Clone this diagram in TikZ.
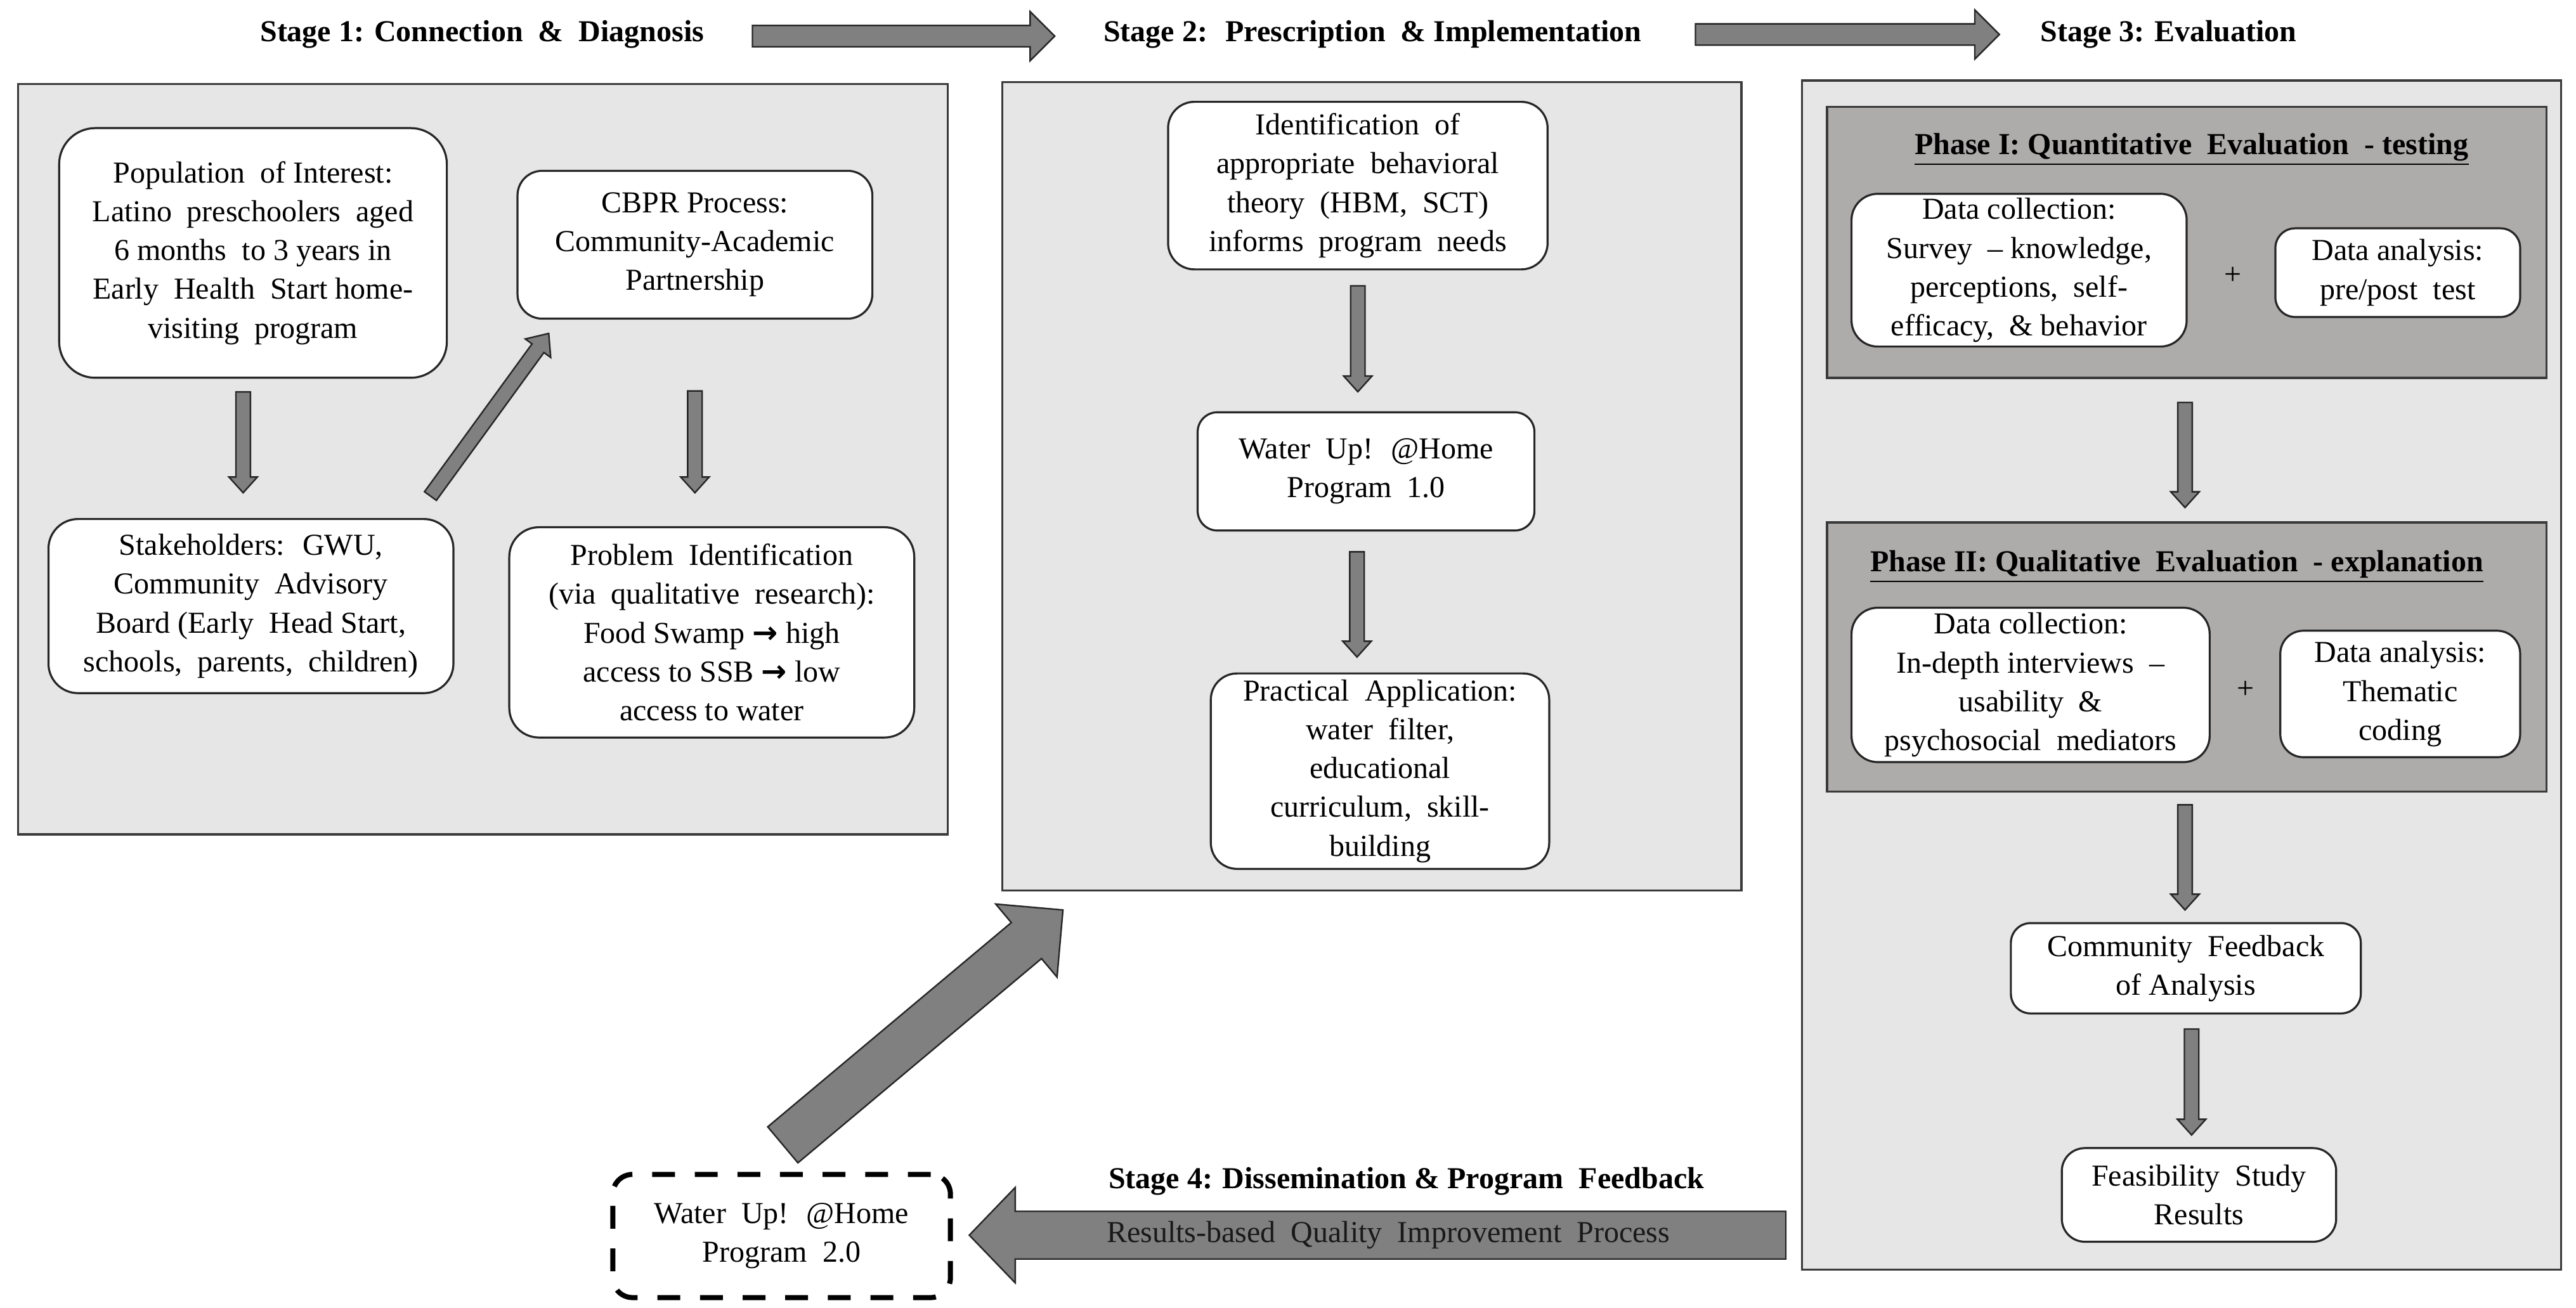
\documentclass[tikz,border=0pt]{standalone}
\usepackage{fontspec}
\setmainfont{Liberation Serif}
\newfontfamily\symf{DejaVu Sans}
\usetikzlibrary{calc}
\definecolor{panelfill}{HTML}{E7E6E6}
\definecolor{phasefill}{HTML}{AEABAB}
\definecolor{arrowfill}{HTML}{808080}
\definecolor{edgec}{HTML}{262626}
\definecolor{panc}{HTML}{3A3A3A}
% #1 start, #2 tip, #3 shaft half width, #4 head half width, #5 head length
\newcommand{\blockarrow}[5]{%
  \coordinate (bah) at ($(#2)!#5!(#1)$);
  \filldraw[blk] ($(#1)!#3!90:(#2)$) -- ($(bah)!#3!90:(#2)$) -- ($(bah)!#4!90:(#2)$) -- (#2)
    -- ($(bah)!#4!-90:(#2)$) -- ($(bah)!#3!-90:(#2)$) -- ($(#1)!#3!-90:(#2)$) -- cycle;}
\begin{document}
\begin{tikzpicture}[x=0.64765pt,y=-0.64765pt,
  sz/.style 2 args={minimum width={#1*0.64765pt},minimum height={#2*0.64765pt}},
  rc/.style={rounded corners={#1*0.64765pt}},
  bx/.style={draw=edgec,line width=0.8pt,fill=white,align=center,inner sep=0pt,font=\fontsize{12}{15.3}\selectfont},
  panel/.style={draw=panc,line width=0.8pt,fill=panelfill,inner sep=0pt},
  phase/.style={draw=panc,line width=0.9pt,fill=phasefill,inner sep=0pt},
  blk/.style={fill=arrowfill,draw=edgec,line width=0.6pt,line join=miter},
  ttl/.style={font=\fontsize{12}{14}\selectfont\bfseries,inner sep=0pt},
  txt/.style={font=\fontsize{12}{14}\selectfont,inner sep=0pt}]

\useasboundingbox (0,0) rectangle (1568,796);

% titles
\node[ttl] (t1) at (293.5,21) {Stage 1: Connection \ \& \ Diagnosis};
\node[ttl] (t2) at (835.5,21) {Stage 2: \ Prescription \ \& Implementation};
\node[ttl] (t3) at (1320,21) {Stage 3: Evaluation};

% panels
\node[panel,sz={566}{457}] (p1) at (294,279.5) {};
\node[panel,sz={450}{492}] (p2) at (835,296) {};
\node[panel,sz={462}{724}] (p3) at (1328,411) {};
\node[phase,sz={438}{165}] (ph1) at (1331,147.5) {};
\node[phase,sz={438}{164}] (ph2) at (1331,400) {};

% stage 1 boxes
\node[bx,sz={236}{152},rc=22] (pop) at (154,154) {Population \ of Interest:\\Latino \ preschoolers \ aged\\6 months \ to 3 years in\\Early \ Health \ Start home-\\visiting \ program};
\node[bx,sz={216}{90},rc=15] (cbpr) at (423,149) {CBPR Process:\\Community-Academic\\Partnership};
\node[bx,sz={246.5}{106},rc=18] (stake) at (152.75,369) {Stakeholders: \ GWU,\\Community \ Advisory\\Board (Early \ Head Start,\\schools, \ parents, \ children)};
\node[bx,sz={246.5}{128},rc=18] (prob) at (433.25,385) {Problem \ Identification\\(via \ qualitative \ research):\\Food Swamp {\symf\bfseries →} high\\access to SSB {\symf\bfseries →} low\\access to water};

% stage 2 boxes
\node[bx,sz={231}{102},rc=16] (ident) at (826.5,113) {Identification \ of\\appropriate \ behavioral\\theory \ (HBM, \ SCT)\\informs \ program \ needs};
\node[bx,sz={205}{72},rc=12] (w1) at (831.5,287) {Water \ Up! \ @Home\\Program \ 1.0};
\node[bx,sz={206}{119},rc=16] (prac) at (840,469.5) {Practical \ Application:\\water \ filter,\\educational\\curriculum, \ skill-\\building};

% stage 3 boxes
\node[ttl] (ph1t) at (1334,91) {\underline{Phase I: Quantitative \ Evaluation \ - testing}};
\node[bx,sz={204}{93},rc=16] (dc1) at (1229,164.5) {Data collection:\\Survey \ – knowledge,\\perceptions, \ self-\\efficacy, \ \& behavior};
\node[txt] (plus1) at (1359,168) {+};
\node[bx,sz={149}{54},rc=12] (da1) at (1459.5,166) {Data analysis:\\pre/post \ test};
\node[ttl] (ph2t) at (1325,345) {\underline{Phase II: Qualitative \ Evaluation \ - explanation}};
\node[bx,sz={218}{94},rc=16] (dc2) at (1236,417) {Data collection:\\In-depth interviews \ –\\usability \ \&\\psychosocial \ mediators};
\node[txt] (plus2) at (1367,420) {+};
\node[bx,sz={146}{77},rc=14] (da2) at (1461,422.5) {Data analysis:\\Thematic\\coding};
\node[bx,sz={213}{55},rc=12] (cf) at (1330.5,589.5) {Community \ Feedback\\of Analysis};
\node[bx,sz={167}{57},rc=14] (fs) at (1338.5,727.5) {Feasibility \ Study\\Results};

% stage 4
\node[bx,sz={205.5}{75},rc=12,draw=black,line width=2pt,dash pattern=on 9pt off 7.8pt] (w2) at (475.75,752.5) {Water \ Up! \ @Home\\Program \ 2.0};
\node[ttl] (t4) at (856,719) {Stage 4: Dissemination \& Program \ Feedback};

% arrow end points
\coordinate (ta1s) at (458,22);   \coordinate (ta1e) at (642,22);
\coordinate (ta2s) at (1032,21);  \coordinate (ta2e) at (1217,21);
\coordinate (a1s) at ($(pop.south)+(-6,8)$);  \coordinate (a1e) at (148,300);
\coordinate (a2s) at (262,302);   \coordinate (a2e) at (334,203);
\coordinate (a3s) at (423,238);   \coordinate (a3e) at (423,300);
\coordinate (b1s) at (826.5,174); \coordinate (b1e) at (826.5,238.5);
\coordinate (b2s) at (826,336);   \coordinate (b2e) at (826,400);
\coordinate (c1s) at (1330,245);  \coordinate (c1e) at (1330,309);
\coordinate (c2s) at (1330,490);  \coordinate (c2e) at (1330,554);
\coordinate (c3s) at (1334,626.5);\coordinate (c3e) at (1334,691);
\coordinate (d1s) at (1087,752);  \coordinate (d1e) at (590,752);
\coordinate (d2s) at (476.5,697); \coordinate (d2e) at (647,554);

\blockarrow{ta1s}{ta1e}{4.2pt}{9.7pt}{9.7pt}
\blockarrow{ta2s}{ta2e}{4.2pt}{9.7pt}{9.7pt}
\blockarrow{a1s}{a1e}{2.85pt}{5.6pt}{6.2pt}
\blockarrow{a2s}{a2e}{2.9pt}{6.2pt}{7.2pt}
\blockarrow{a3s}{a3e}{2.85pt}{5.6pt}{6.2pt}
\blockarrow{b1s}{b1e}{2.85pt}{5.6pt}{6.2pt}
\blockarrow{b2s}{b2e}{2.85pt}{5.6pt}{6.2pt}
\blockarrow{c1s}{c1e}{2.85pt}{5.6pt}{6.2pt}
\blockarrow{c2s}{c2e}{2.85pt}{5.6pt}{6.2pt}
\blockarrow{c3s}{c3e}{2.85pt}{5.6pt}{6.2pt}
\blockarrow{d1s}{d1e}{9.4pt}{18.8pt}{18.1pt}
\blockarrow{d2s}{d2e}{9.26pt}{18.8pt}{18.8pt}

\node[txt,text=black!90] (d1t) at (845,752) {Results-based \ Quality \ Improvement \ Process};
\end{tikzpicture}
\end{document}
